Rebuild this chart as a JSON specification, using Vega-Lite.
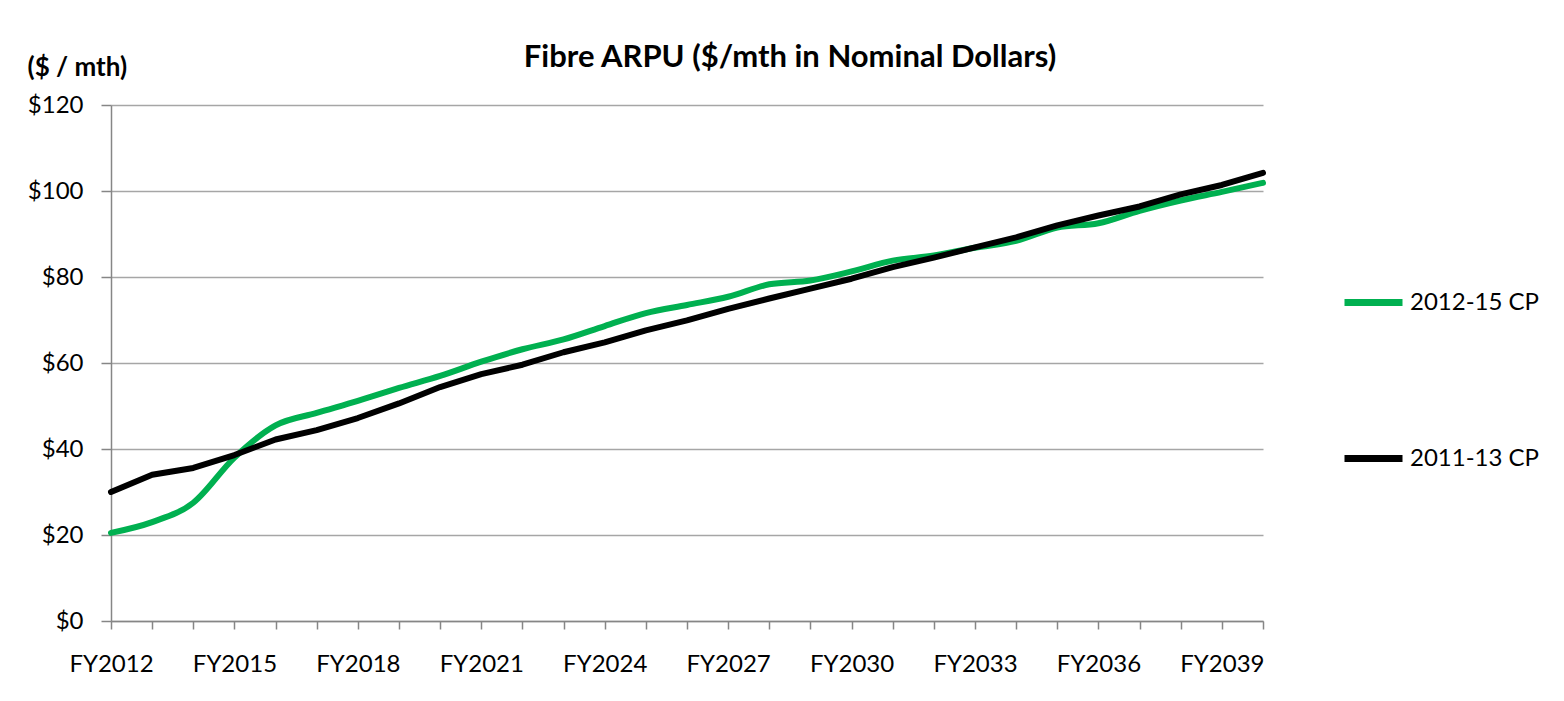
{
  "$schema": "https://vega.github.io/schema/vega-lite/v6.json",
  "width": 1152,
  "height": 516,
  "autosize": {"type": "none"},
  "padding": {"left": 111, "top": 105, "right": 301, "bottom": 80},
  "background": "white",
  "config": {
    "view": {"stroke": null},
    "font": "Lato",
    "axis": {"labelFont": "Lato", "titleFont": "Lato"}
  },
  "title": {
    "text": "Fibre ARPU ($/mth in Nominal Dollars)",
    "anchor": "middle",
    "dx": 103,
    "dy": 30,
    "fontSize": 31,
    "fontWeight": "bold",
    "font": "Lato",
    "color": "#000000",
    "offset": 10
  },
  "data": {
    "values": [
      {"year": 2012, "series": "2012-15 CP", "value": 20.5},
      {"year": 2013, "series": "2012-15 CP", "value": 23.0},
      {"year": 2014, "series": "2012-15 CP", "value": 27.5},
      {"year": 2015, "series": "2012-15 CP", "value": 38.0},
      {"year": 2016, "series": "2012-15 CP", "value": 45.5},
      {"year": 2017, "series": "2012-15 CP", "value": 48.4},
      {"year": 2018, "series": "2012-15 CP", "value": 51.2},
      {"year": 2019, "series": "2012-15 CP", "value": 54.2},
      {"year": 2020, "series": "2012-15 CP", "value": 57.0},
      {"year": 2021, "series": "2012-15 CP", "value": 60.3},
      {"year": 2022, "series": "2012-15 CP", "value": 63.2},
      {"year": 2023, "series": "2012-15 CP", "value": 65.5},
      {"year": 2024, "series": "2012-15 CP", "value": 68.6},
      {"year": 2025, "series": "2012-15 CP", "value": 71.6},
      {"year": 2026, "series": "2012-15 CP", "value": 73.5},
      {"year": 2027, "series": "2012-15 CP", "value": 75.4},
      {"year": 2028, "series": "2012-15 CP", "value": 78.3},
      {"year": 2029, "series": "2012-15 CP", "value": 79.2},
      {"year": 2030, "series": "2012-15 CP", "value": 81.3},
      {"year": 2031, "series": "2012-15 CP", "value": 83.8},
      {"year": 2032, "series": "2012-15 CP", "value": 85.0},
      {"year": 2033, "series": "2012-15 CP", "value": 86.8},
      {"year": 2034, "series": "2012-15 CP", "value": 88.4},
      {"year": 2035, "series": "2012-15 CP", "value": 91.5},
      {"year": 2036, "series": "2012-15 CP", "value": 92.5},
      {"year": 2037, "series": "2012-15 CP", "value": 95.4},
      {"year": 2038, "series": "2012-15 CP", "value": 97.8},
      {"year": 2039, "series": "2012-15 CP", "value": 99.8},
      {"year": 2040, "series": "2012-15 CP", "value": 101.9},
      {"year": 2012, "series": "2011-13 CP", "value": 30.0},
      {"year": 2013, "series": "2011-13 CP", "value": 34.0},
      {"year": 2014, "series": "2011-13 CP", "value": 35.6},
      {"year": 2015, "series": "2011-13 CP", "value": 38.6},
      {"year": 2016, "series": "2011-13 CP", "value": 42.2},
      {"year": 2017, "series": "2011-13 CP", "value": 44.4},
      {"year": 2018, "series": "2011-13 CP", "value": 47.2},
      {"year": 2019, "series": "2011-13 CP", "value": 50.6},
      {"year": 2020, "series": "2011-13 CP", "value": 54.4},
      {"year": 2021, "series": "2011-13 CP", "value": 57.4},
      {"year": 2022, "series": "2011-13 CP", "value": 59.6},
      {"year": 2023, "series": "2011-13 CP", "value": 62.5},
      {"year": 2024, "series": "2011-13 CP", "value": 64.8},
      {"year": 2025, "series": "2011-13 CP", "value": 67.6},
      {"year": 2026, "series": "2011-13 CP", "value": 69.9},
      {"year": 2027, "series": "2011-13 CP", "value": 72.6},
      {"year": 2028, "series": "2011-13 CP", "value": 75.0},
      {"year": 2029, "series": "2011-13 CP", "value": 77.3},
      {"year": 2030, "series": "2011-13 CP", "value": 79.6},
      {"year": 2031, "series": "2011-13 CP", "value": 82.3},
      {"year": 2032, "series": "2011-13 CP", "value": 84.5},
      {"year": 2033, "series": "2011-13 CP", "value": 86.9},
      {"year": 2034, "series": "2011-13 CP", "value": 89.2},
      {"year": 2035, "series": "2011-13 CP", "value": 92.0},
      {"year": 2036, "series": "2011-13 CP", "value": 94.3},
      {"year": 2037, "series": "2011-13 CP", "value": 96.4},
      {"year": 2038, "series": "2011-13 CP", "value": 99.2},
      {"year": 2039, "series": "2011-13 CP", "value": 101.4},
      {"year": 2040, "series": "2011-13 CP", "value": 104.2}
    ]
  },
  "encoding": {
    "x": {
      "field": "year",
      "type": "quantitative",
      "scale": {"domain": [2012, 2040], "nice": false, "zero": false},
      "axis": {
        "title": null,
        "values": [2012,2013,2014,2015,2016,2017,2018,2019,2020,2021,2022,2023,2024,2025,2026,2027,2028,2029,2030,2031,2032,2033,2034,2035,2036,2037,2038,2039,2040],
        "labelExpr": "(datum.value - 2012) % 3 == 0 && datum.value < 2040 ? 'FY' + datum.value : ''",
        "grid": false,
        "domainColor": "#868686",
        "domainWidth": 1.5,
        "tickColor": "#868686",
        "tickWidth": 1.5,
        "tickSize": 8,
        "labelFontSize": 24,
        "labelColor": "#000000",
        "labelPadding": 23,
        "labelFlush": false,
        "labelOverlap": false
      }
    },
    "y": {
      "field": "value",
      "type": "quantitative",
      "scale": {"domain": [0, 120], "nice": false},
      "axis": {
        "values": [0, 20, 40, 60, 80, 100, 120],
        "format": "$,.0f",
        "title": "($ / mth)",
        "titleAngle": 0,
        "titleAlign": "left",
        "titleBaseline": "alphabetic",
        "titleX": -84,
        "titleY": -30,
        "titleFontSize": 26,
        "titleFontWeight": "bold",
        "titleColor": "#000000",
        "labelFontSize": 24,
        "labelColor": "#000000",
        "labelPadding": 18,
        "tickSize": 10,
        "tickColor": "#868686",
        "tickWidth": 1.5,
        "domainColor": "#868686",
        "domainWidth": 1.5,
        "gridColor": "#a6a6a6",
        "gridWidth": 1.5
      }
    },
    "color": {
      "field": "series",
      "type": "nominal",
      "scale": {"domain": ["2012-15 CP", "2011-13 CP"], "range": ["#00b050", "#000000"]},
      "legend": {
        "title": null,
        "orient": "none",
        "legendX": 1230,
        "legendY": 165,
        "padding": 0,
        "symbolType": "stroke",
        "symbolSize": 3364,
        "symbolStrokeWidth": 7,
        "labelFontSize": 24,
        "labelFont": "Lato",
        "labelColor": "#000000",
        "labelOffset": 4,
        "rowPadding": 109,
        "labelLimit": 300
      }
    }
  },
  "layer": [
    {
      "transform": [{"filter": "datum.series == '2012-15 CP'"}],
      "mark": {"type": "line", "strokeWidth": 6, "interpolate": "monotone", "strokeCap": "round"}
    },
    {
      "transform": [{"filter": "datum.series == '2011-13 CP'"}],
      "mark": {"type": "line", "strokeWidth": 6, "strokeCap": "round", "strokeJoin": "round"}
    }
  ]
}
